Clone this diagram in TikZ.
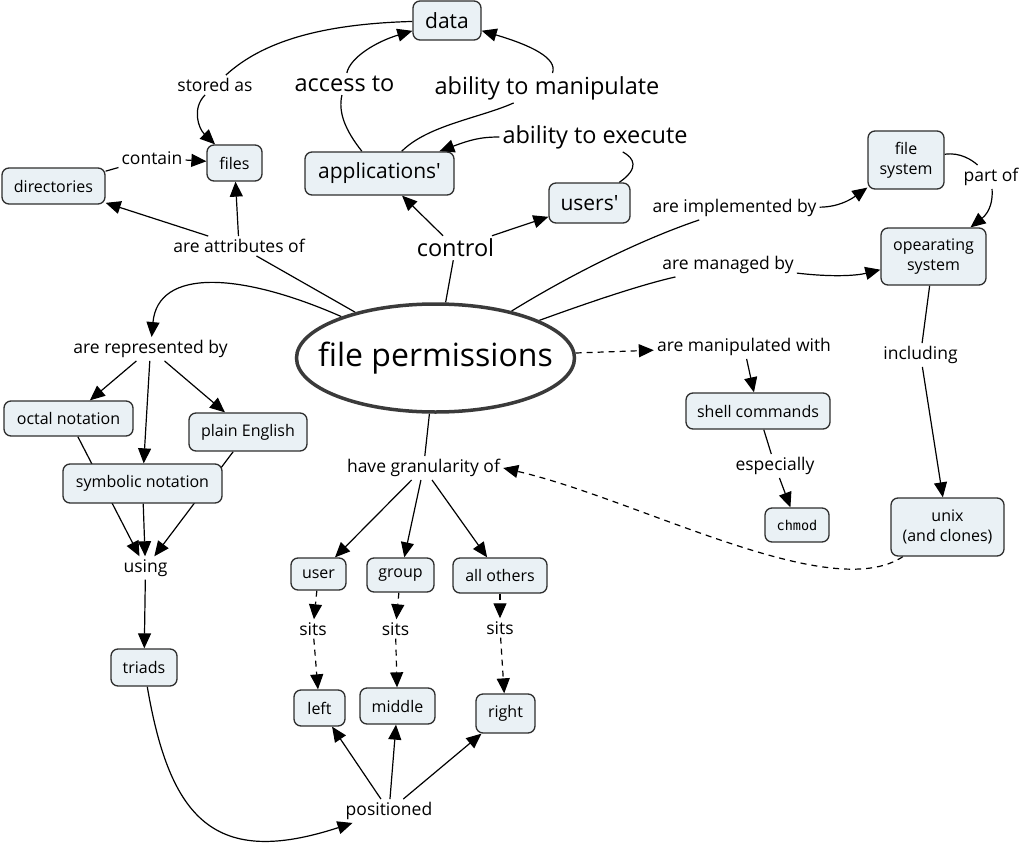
\documentclass[tikz,border=0pt]{standalone}
\usepackage{fontspec}
\newfontfamily\osf{Open Sans}
\setmonofont{DejaVu Sans Mono}
\usetikzlibrary{arrows.meta,shapes.geometric}
\pgfdeclarelayer{bg}\pgfsetlayers{bg,main}
\newcommand\fsz[2]{\fontsize{#1}{#2}\selectfont}
\definecolor{boxfill}{HTML}{EAF1F5}
\definecolor{boxline}{HTML}{2E2E2E}
\definecolor{ellline}{HTML}{3A3A3A}
\tikzset{
 cbox/.style={draw=boxline, fill=boxfill, rounded corners=7pt, line width=1.3pt, font=\osf\fsz{16}{20}, align=center, inner sep=0pt},
 lbl/.style={font=\osf\fsz{17.5}{20}, inner sep=3pt},
 biglbl/.style={font=\osf\fsz{23.5}{26}, inner sep=3pt},
 conn/.style={line width=1.2pt},
 arr/.style={conn, -{Triangle[length=15pt,width=13pt]}},
 dsh/.style={dash pattern=on 6pt off 5pt},
}
\begin{document}
\osf
\begin{tikzpicture}[x=1pt,y=-1pt]
\useasboundingbox (0,0) rectangle (1024,853);
% boxes
\node[cbox, font=\osf\fsz{21}{24}, minimum width=68pt, minimum height=39pt] (data) at (447,20.5) {data};
\node[cbox, font=\osf\fsz{21}{24}, minimum width=149pt, minimum height=43pt] (apps) at (379.5,173.5) {applications'};
\node[cbox, font=\osf\fsz{21}{24}, minimum width=81pt, minimum height=40pt] (users) at (589.5,203) {users'};
\node[cbox, minimum width=55pt, minimum height=36pt] (files) at (234.5,163) {files};
\node[cbox, minimum width=103pt, minimum height=36pt] (dirs) at (53.5,186) {directories};
\node[cbox, minimum width=76pt, minimum height=58pt] (fsys) at (906,160) {file\\system};
\node[cbox, minimum width=105pt, minimum height=57pt] (os) at (933.5,256.5) {opearating\\system};
\node[cbox, minimum width=144pt, minimum height=36pt] (shell) at (758,411) {shell commands};
\node[cbox, font=\ttfamily\fsz{13.5}{16}, minimum width=64pt, minimum height=34pt] (chmod) at (797,525) {chmod};
\node[cbox, minimum width=113pt, minimum height=58pt] (unix) at (947.5,527) {unix\\(and clones)};
\node[cbox, minimum width=129pt, minimum height=35pt] (octal) at (68.5,418.5) {octal notation};
\node[cbox, minimum width=118pt, minimum height=38pt] (plain) at (248,432) {plain English};
\node[cbox, minimum width=159pt, minimum height=39pt] (symb) at (142.5,483.5) {symbolic notation};
\node[cbox, minimum width=66pt, minimum height=37pt] (triads) at (144,667.5) {triads};
\node[cbox, minimum width=55pt, minimum height=32pt] (user) at (318.5,574) {user};
\node[cbox, minimum width=67pt, minimum height=34pt] (group) at (400.5,575) {group};
\node[cbox, minimum width=94pt, minimum height=35pt] (allothers) at (500,575.5) {all others};
\node[cbox, minimum width=51pt, minimum height=36pt] (left) at (319.5,708) {left};
\node[cbox, minimum width=75pt, minimum height=36pt] (middle) at (397.5,706) {middle};
\node[cbox, minimum width=59pt, minimum height=39pt] (right) at (505.5,713.5) {right};
% central ellipse
\node[ellipse, draw=ellline, line width=3.5pt, fill=white, inner sep=0pt, minimum width=278pt, minimum height=108pt, font=\osf\fsz{32}{36}] (fp) at (435.5,358) {\makebox[0pt]{file permissions}};
% labels
\node[lbl] (storedas) at (215,85) {stored as};
\node[biglbl] (accessto) at (344.5,84) {access to};
\node[biglbl] (abmanip) at (547,88) {ability to manipulate};
\node[biglbl] (abexec) at (595,137) {ability to execute};
\node[biglbl] (control) at (455.5,248) {control};
\node[lbl] (contain) at (152,158) {contain};
\node[lbl] (attrib) at (239,246) {are attributes of};
\node[lbl] (implby) at (734.5,208) {are implemented by};
\node[lbl] (managed) at (728,265) {are managed by};
\node[lbl] (partof) at (991,177) {part of};
\node[lbl] (manipwith) at (744,347) {are manipulated with};
\node[lbl] (including) at (920.5,355) {including};
\node[lbl] (espec) at (775,466) {especially};
\node[lbl] (reprby) at (150.5,349) {are represented by};
\node[lbl] (granul) at (423.5,468) {have granularity of};
\node[lbl] (using) at (145.5,568) {using};
\node[lbl] (sits1) at (313,629) {sits};
\node[lbl] (sits2) at (395.5,629) {sits};
\node[lbl] (sits3) at (500,628) {sits};
\node[lbl] (positioned) at (389,811) {positioned};
% connectors
\begin{pgfonlayer}{bg}
\draw[conn] (data) .. controls (320,24) and (262,42) .. (storedas);
\draw[arr] (storedas) .. controls (192,108) and (198,128) .. (files);
\draw[conn] (dirs) -- (contain);
\draw[arr] (contain) -- (files);
\draw[conn] (apps) .. controls (345,130) and (338,112) .. (accessto);
\draw[arr] (accessto) .. controls (350,58) and (375,42) .. (data);
\draw[conn] (apps) .. controls (428,125) and (480,118) .. (abmanip);
\draw[arr] (abmanip) .. controls (558,58) and (530,45) .. (data);
\draw[conn] (users) .. controls (640,168) and (634,158) .. (abexec);
\draw[arr] (abexec) .. controls (480,137) and (470,140) .. (apps);
\draw[conn] (fp) -- (control);
\draw[arr] (control) -- (apps);
\draw[arr] (control) -- (users);
\draw[conn] (fp) -- (attrib);
\draw[arr] (attrib) -- (dirs);
\draw[arr] (attrib) -- (files);
\draw[arr] (fp) .. controls (240,272) and (158,268) .. (reprby);
\draw[arr] (reprby) -- (octal);
\draw[arr] (reprby) -- (symb);
\draw[arr] (reprby) -- (plain);
\draw[arr] (octal) -- (using);
\draw[arr] (symb) -- (using);
\draw[arr] (plain) -- (using);
\draw[arr] (using) -- (triads);
\draw[arr] (triads) .. controls (170,820) and (215,868) .. (positioned);
\draw[arr] (positioned) -- (left);
\draw[arr] (positioned) -- (middle);
\draw[arr] (positioned) -- (right);
\draw[conn] (fp) -- (granul);
\draw[arr] (granul) -- (user);
\draw[arr] (granul) -- (group);
\draw[arr] (granul) -- (allothers);
\draw[arr,dsh] (user) -- (sits1);
\draw[arr,dsh] (sits1) -- (left);
\draw[arr,dsh] (group) -- (sits2);
\draw[arr,dsh] (sits2) -- (middle);
\draw[arr,dsh] (allothers) -- (sits3);
\draw[arr,dsh] (sits3) -- (right);
\draw[arr,dsh] (unix) .. controls (830,605) and (640,500) .. (granul.east);
\draw[arr,dsh] (fp) -- (manipwith);
\draw[arr] (manipwith) -- (shell);
\draw[conn] (shell) -- (espec);
\draw[arr] (espec) -- (chmod);
\draw[conn] (fp) .. controls (570,275) and (640,240) .. (implby);
\draw[arr] (implby) .. controls (838,207) and (850,200) .. (fsys);
\draw[conn] (fp) .. controls (590,302) and (640,285) .. (managed);
\draw[arr] (managed) .. controls (830,277) and (855,276) .. (os);
\draw[conn] (fsys) .. controls (960,152) and (972,160) .. (partof);
\draw[arr] (partof) .. controls (993,200) and (990,212) .. (os);
\draw[conn] (os) -- (including);
\draw[arr] (including) -- (unix);
\end{pgfonlayer}
\end{tikzpicture}
\end{document}
